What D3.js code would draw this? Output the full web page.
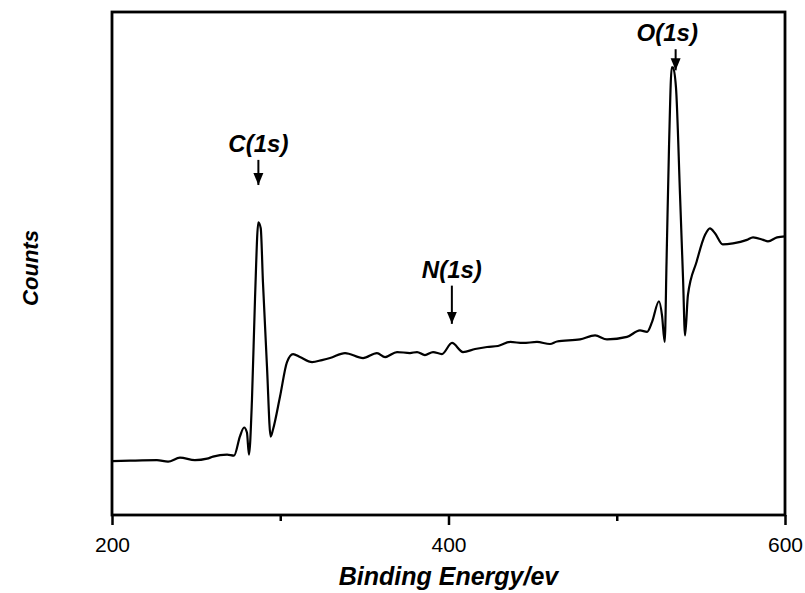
<!DOCTYPE html>
<html>
<head>
<meta charset="utf-8">
<script src="https://cdn.jsdelivr.net/npm/d3@7"></script>
<style>
  body { margin: 0; background: #fff; }
  text { font-family: "Liberation Sans", Arial, sans-serif; fill: #000; }
</style>
</head>
<body>
<div id="chart"></div>
<script>
// XPS survey spectrum (counts in arbitrary units)
var energy = [200, 210.7, 226.7, 233.3, 240.4, 249.3, 256.5, 260.0, 268.4, 272.5,
  276.1, 278.5, 280.2, 281.4, 283.2, 285.0, 287.0, 288.4, 289.7, 292.1,
  294.3, 295.7, 299.9, 304.0, 307.6, 311.7, 318.9, 324.8, 329.6, 338.5,
  349.2, 357.5, 362.3, 369.4, 377.1, 381.3, 386.0, 390.8, 396.1, 402.1,
  408.6, 415.8, 422.9, 429.4, 436.6, 444.3, 452.6, 460.3, 464.5, 478.2,
  487.1, 494.2, 506.1, 513.8, 518.0, 521.0, 525.1, 526.9, 528.5, 529.6,
  531.1, 532.7, 533.4, 535.2, 537.6, 539.4, 540.6, 542.3, 547.5, 552.5,
  555.4, 558.4, 563.0, 569.1, 577.4, 581.0, 587.0, 589.9, 595.3, 600];
var counts = [10.7, 10.8, 10.9, 10.6, 11.4, 10.9, 11.2, 11.6, 12.0, 11.8,
  15.7, 17.4, 16.4, 12.0, 23.0, 43.0, 58.2, 57.0, 46.4, 29.6,
  15.6, 17.0, 23.6, 30.4, 32.0, 31.4, 30.4, 30.8, 31.2, 32.2,
  31.2, 32.2, 31.4, 32.4, 32.2, 32.4, 31.8, 32.4, 32.0, 34.2,
  32.4, 33.0, 33.4, 33.6, 34.4, 34.2, 34.4, 34.0, 34.5, 34.9,
  35.7, 34.9, 35.4, 36.7, 36.4, 38.4, 42.5, 39.7, 34.4, 50.4,
  73.7, 89.0, 89.0, 85.0, 63.7, 47.0, 35.7, 43.7, 50.4, 55.7,
  57.0, 56.0, 53.8, 54.0, 54.7, 55.2, 54.7, 54.4, 55.2, 55.4];

var xTicks = [200, 400, 600];
var xMinorTicks = [300, 500];

// peak labels
var peakNames = ["C(1s)", "N(1s)", "O(1s)"];
var peakEnergy = [287, 402, 535];
var labelEnergy = [287, 402, 530];
var arrowFrom = [70.6, 45.6, 92.6];
var arrowTo = [65.6, 38.0, 88.4];

var svgWidth = 805;
var svgHeight = 593;
var margin = { top: 12, right: 20, bottom: 78, left: 112 };
var width = svgWidth - margin.left - margin.right;
var height = svgHeight - margin.top - margin.bottom;

var svg = d3.select("#chart")
  .append("svg")
  .attr("width", svgWidth)
  .attr("height", svgHeight);

svg.append("defs").append("marker")
  .attr("id", "head")
  .attr("viewBox", "0 0 12 12")
  .attr("refX", 12)
  .attr("refY", 6)
  .attr("markerWidth", 12)
  .attr("markerHeight", 12)
  .attr("markerUnits", "userSpaceOnUse")
  .attr("orient", "auto")
  .append("path")
  .attr("d", "M0,1 L12,6 L0,11 Z")
  .attr("fill", "#000");

var chart = svg.append("g")
  .attr("transform", `translate(${margin.left}, ${margin.top})`);

var x = d3.scaleLinear().domain([200, 600]).range([0, width]);
var y = d3.scaleLinear().domain([0, 100]).range([height, 0]);

// minor ticks
chart.append("g")
  .attr("transform", `translate(0, ${height})`)
  .call(d3.axisBottom(x).tickValues(xMinorTicks).tickSize(6).tickFormat(""))
  .call(g => g.select(".domain").remove())
  .selectAll("line").attr("stroke-width", 2.5);

var bottomAxis = chart.append("g")
  .attr("transform", `translate(0, ${height})`)
  .call(d3.axisBottom(x).tickValues(xTicks).tickSize(10).tickPadding(8).tickFormat(d3.format("d")));
bottomAxis.select(".domain").remove();
bottomAxis.selectAll("line").attr("stroke-width", 2.5);
bottomAxis.selectAll("text")
  .attr("font-size", 21)
  .attr("dy", "0.9em");

// frame
chart.append("rect")
  .attr("x", 0)
  .attr("y", 0)
  .attr("width", width)
  .attr("height", height)
  .attr("fill", "none")
  .attr("stroke", "#000")
  .attr("stroke-width", 2.8);

var line = d3.line()
  .x((d, i) => x(energy[i]))
  .y(d => y(d))
  .curve(d3.curveMonotoneX);

chart.append("path")
  .datum(counts)
  .attr("fill", "none")
  .attr("stroke", "#000")
  .attr("stroke-width", 2.2)
  .attr("d", line);

// arrows and labels
var peaks = chart.selectAll(".peak").data(peakNames).enter().append("g");

peaks.append("line")
  .attr("x1", (d, i) => x(peakEnergy[i]))
  .attr("x2", (d, i) => x(peakEnergy[i]))
  .attr("y1", (d, i) => y(arrowFrom[i]))
  .attr("y2", (d, i) => y(arrowTo[i]))
  .attr("stroke", "#000")
  .attr("stroke-width", 2)
  .attr("marker-end", "url(#head)");

peaks.append("text")
  .attr("x", (d, i) => x(labelEnergy[i]))
  .attr("y", (d, i) => y(arrowFrom[i]) - 8)
  .attr("text-anchor", "middle")
  .attr("font-size", 24)
  .attr("font-weight", "bold")
  .attr("font-style", "italic")
  .text(d => d);

chart.append("text")
  .attr("transform", "rotate(-90)")
  .attr("x", -268 + margin.top)
  .attr("y", -margin.left + 38)
  .attr("text-anchor", "middle")
  .attr("font-size", 22)
  .attr("font-weight", "bold")
  .attr("font-style", "italic")
  .text("Counts");

chart.append("text")
  .attr("x", width / 2)
  .attr("y", height + 70)
  .attr("text-anchor", "middle")
  .attr("font-size", 25)
  .attr("font-weight", "bold")
  .attr("font-style", "italic")
  .text("Binding Energy/ev");
</script>
</body>
</html>
